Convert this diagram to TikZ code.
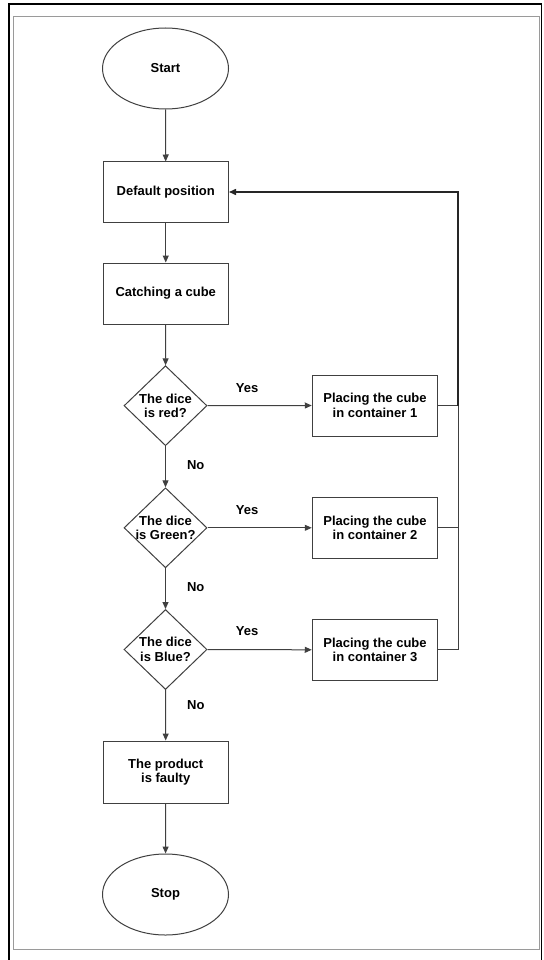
\documentclass[tikz,border=0pt]{standalone}
\usepackage{fontspec}
\setmainfont{Liberation Sans}
\usetikzlibrary{shapes.geometric,arrows.meta}
\definecolor{edge}{HTML}{404040}
\definecolor{frame}{HTML}{9A9A9A}
\begin{document}
\begin{tikzpicture}[x=1pt,y=-1pt,
  txt/.style={font=\bfseries\fontsize{13}{14.5}\selectfont,align=center,text=black},
  term/.style={ellipse,draw=edge,line width=1pt,minimum width=126pt,minimum height=81pt,inner sep=0pt,txt},
  proc/.style={rectangle,draw=edge,line width=1pt,minimum width=125.5pt,minimum height=61pt,inner sep=0pt,txt},
  dec/.style={diamond,draw=edge,line width=1pt,minimum width=83pt,minimum height=80pt,inner sep=0pt},
  dectext/.style={txt,inner sep=0pt},
  flow/.style={draw=edge,line width=1pt,-{Triangle[length=7pt,width=6pt]}},
  link/.style={draw=edge,line width=0.9pt},
  back/.style={draw=black!85,line width=1.5pt},
  lab/.style={txt,inner sep=0pt}]
\useasboundingbox (0,0) rectangle (543,960);
\fill[white] (0,0) rectangle (543,960);
\draw[black,line width=1.2pt] (9,960) -- (9,4) -- (541.5,4) -- (541.5,960);
\draw[frame,line width=1pt] (13.5,17) rectangle (539,949);

\node[term] (start) at (165.5,68.5) {Start};
\node[proc,minimum height=60pt] (def) at (165.75,192) {Default position};
\node[proc] (catch) at (165.75,293.5) {Catching a cube};
\node[dec,label={[dectext]center:The dice\\is red?}] (d1) at (165.5,405.7) {};
\node[dec,label={[dectext]center:The dice\\is Green?}] (d2) at (165.5,527.8) {};
\node[dec,label={[dectext]center:The dice\\is Blue?}] (d3) at (165.5,649.5) {};
\node[proc] (c1) at (375,405.5) {Placing the cube\\in container 1};
\node[proc] (c2) at (375,527.8) {Placing the cube\\in container 2};
\node[proc] (c3) at (375,649.8) {Placing the cube\\in container 3};
\node[proc,minimum height=62pt] (faulty) at (165.75,772) {The product\\is faulty};
\node[term] (stop) at (165.5,894.5) {Stop};

\draw[flow] (start) -- (def);
\draw[flow] (def) -- (catch);
\draw[flow] (catch) -- (d1);
\draw[flow] (d1) -- node[lab,pos=0.45,right=21pt] {No} (d2);
\draw[flow] (d2) -- node[lab,pos=0.45,right=21pt] {No} (d3);
\draw[flow] (d3) -- node[lab,pos=0.3,right=21pt] {No} (faulty);
\draw[flow] (faulty) -- (stop);

\draw[flow] (d1.east) -- node[lab,pos=0.38,above=13pt] {Yes} (c1.west);
\draw[flow] (d2.east) -- node[lab,pos=0.38,above=13pt] {Yes} (c2.west);
\draw[flow] (d3.east) -- node[lab,pos=0.38,above=13pt] {Yes} (c3.west);

\coordinate (fb) at (458,192);
\draw[link] (c1.east) -- (c1.east -| fb);
\draw[link] (c2.east) -- (c2.east -| fb);
\draw[link] (c3.east) -- (c3.east -| fb) -- (c1.east -| fb);
\draw[back,-{Triangle[length=7pt,width=6pt]}] (c1.east -| fb) -- (fb) -- (def.east);
\end{tikzpicture}
\end{document}
